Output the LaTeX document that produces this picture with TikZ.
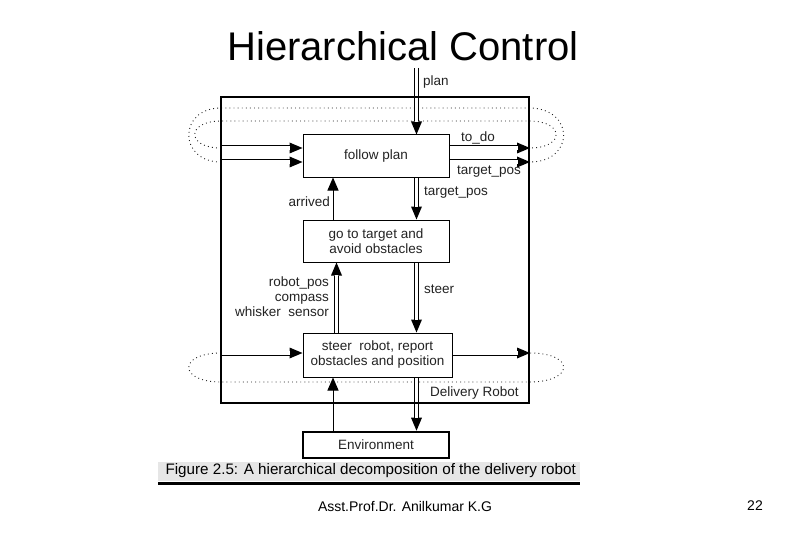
\documentclass[tikz,border=0pt]{standalone}
\usepackage{fontspec}
\setmainfont{Liberation Sans}
\usetikzlibrary{arrows.meta,positioning,backgrounds}
\definecolor{Ink}{HTML}{222222}
\definecolor{Band}{HTML}{E6E6E6}

\begin{document}
\begin{tikzpicture}[x=1pt,y=-1pt,font=\fontsize{13.5}{15}\selectfont,
    lbl/.style={text=Ink,inner sep=0pt},
    blk/.style={draw,line width=1pt,minimum width=146pt,minimum height=42pt,
      align=center,inner sep=0pt,text=Ink},
    dbl/.style={line width=5pt,-{Triangle[length=13pt,width=11pt,line width=0pt]},
      postaction={draw=white,line width=3.4pt,-,shorten >=12.5pt}},
    sgl/.style={line width=1pt,-{Triangle[length=13pt,width=11pt]}},
    loop/.style={dash pattern=on 0.9pt off 3.2pt,line width=0.9pt,draw=Ink}]
  \useasboundingbox (0,0) rectangle (810,540);

  % title and slide footer
  \node[font=\fontsize{40}{48}\selectfont] (title) at (403,46) {Hierarchical Control};
  \node[font=\fontsize{14}{16}\selectfont] (author) at (405,506) {Asst.Prof.Dr. Anilkumar K.G};
  \node[font=\fontsize{14}{16}\selectfont] (page) at (755,506) {22};

  % the layers
  \node[blk] (follow) at (376,156) {follow plan};
  \node[blk] (goto) at (376,241) {go to target and\\avoid obstacles};
  \node[blk,minimum width=149pt,minimum height=44pt] (steerbox) at (377.5,355)
    {steer\ \ robot, report\\obstacles and position};
  \node[blk,line width=2.6pt,minimum height=26pt] (env) at (376,445) {Environment};

  \coordinate (planin) at (416.5,68);
  \coordinate (upx) at (333,0);
  \coordinate (senx) at (336.5,0);
  \coordinate (inA) at (221,148);
  \coordinate (inB) at (221,162);
  \coordinate (outA) at (530,148);
  \coordinate (outB) at (530,162);
  \coordinate (inC) at (221,353);
  \coordinate (outC) at (530,353);

  \begin{scope}[on background layer]
  % remembered state
  \draw[loop] (inB) .. controls (178,162) and (178,108) .. (221,108) -- (529,108)
    .. controls (575,108) and (575,162) .. (outB);
  \draw[loop] (inA) .. controls (186,148) and (186,121) .. (221,121) -- (529,121)
    .. controls (565,121) and (565,148) .. (outA);
  \draw[loop] (inC) .. controls (178,353) and (178,382) .. (221,382) -- (529,382)
    .. controls (575,382) and (575,353) .. (outC);
  \draw[dbl] (inA) -- (inA -| follow.west);
  \draw[dbl] (inB) -- (inB -| follow.west);
  \draw[dbl] (follow.east |- outA) -- (outA);
  \draw[dbl] (follow.east |- outB) -- (outB);
  \draw[dbl] (inC) -- (inC -| steerbox.west);
  \draw[dbl] (steerbox.east |- outC) -- (outC);

  % downward commands
  \draw[dbl] (planin) -- (planin |- follow.north);
  \draw[dbl] (follow.south -| planin) -- (goto.north -| planin);
  \draw[dbl] (goto.south -| planin) -- (steerbox.north -| planin);
  \draw[dbl] (steerbox.south -| planin) -- (env.north -| planin);

  % upward percepts
  \draw[sgl] (goto.north -| upx) -- (follow.south -| upx);
  \draw[dbl] (steerbox.north -| senx) -- (goto.south -| senx);
  \draw[sgl] (env.north -| upx) -- (steerbox.south -| upx);
  \end{scope}

  % the robot
  \node[draw,line width=2.6pt,minimum width=308pt,minimum height=306pt,inner sep=0pt]
    (robot) at (375,250) {};

  % labels
  \node[lbl,anchor=west] (planlbl) at (423,82) {plan};
  \node[lbl,anchor=west] (todo) at (461,138) {to\_do};
  \node[lbl,anchor=west] (tposA) at (457,172) {target\_pos};
  \node[lbl,anchor=west] (tposB) at (424,193) {target\_pos};
  \node[lbl,anchor=east] (arrived) at (330,202) {arrived};
  \node[lbl,anchor=east,align=right] (sensors) at (329,297)
    {robot\_pos\\compass\\whisker\ \ sensor};
  \node[lbl,anchor=west] (steer) at (424,289) {steer};
  \node[lbl,anchor=west] (robotlbl) at (430,393) {Delivery Robot};

  % caption
  \fill[Band] (158,462) rectangle (580,481);
  \draw[line width=2.6pt] (158,483.5) -- (580,483.5);
  \node[anchor=west,font=\fontsize{15.2}{17}\selectfont] (caption) at (162,471)
    {Figure 2.5: A hierarchical decomposition of the delivery robot};
\end{tikzpicture}
\end{document}
